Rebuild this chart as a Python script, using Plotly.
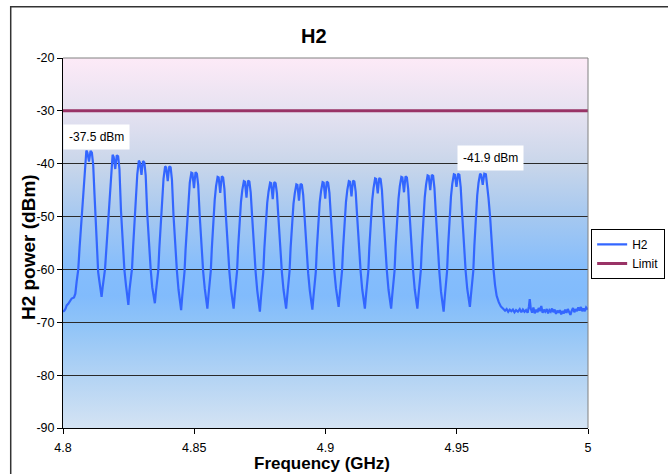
import base64
import plotly.graph_objects as go

# ---------------- data ----------------
freq_ghz = [
    4.8000, 4.8005, 4.8010, 4.8014, 4.8020, 4.8027, 4.8033, 4.8042, 4.8047, 4.8052, 4.8058,
    4.8063, 4.8068, 4.8073, 4.8078, 4.8083, 4.8089, 4.8093, 4.8096, 4.8099, 4.8102, 4.8105, 4.8110, 4.8115, 4.8120, 4.8125, 4.8130, 4.8134, 4.8138, 4.8142, 4.8147, 4.8151, 4.8155, 4.8160,
    4.8166, 4.8173, 4.8178, 4.8183, 4.8189, 4.8193, 4.8196, 4.8199, 4.8202, 4.8205, 4.8210, 4.8215, 4.8221, 4.8227, 4.8234, 4.8240, 4.8245, 4.8249, 4.8253, 4.8257, 4.8263,
    4.8267, 4.8273, 4.8278, 4.8283, 4.8289, 4.8293, 4.8296, 4.8299, 4.8302, 4.8305, 4.8310, 4.8315, 4.8321, 4.8327, 4.8334, 4.8340, 4.8345, 4.8350, 4.8354, 4.8358, 4.8363,
    4.8367, 4.8373, 4.8378, 4.8383, 4.8389, 4.8393, 4.8396, 4.8399, 4.8402, 4.8405, 4.8410, 4.8415, 4.8421, 4.8427, 4.8434, 4.8440, 4.8445, 4.8450, 4.8454, 4.8458, 4.8463,
    4.8467, 4.8473, 4.8478, 4.8483, 4.8489, 4.8493, 4.8496, 4.8499, 4.8502, 4.8505, 4.8510, 4.8515, 4.8521, 4.8527, 4.8534, 4.8540, 4.8545, 4.8550, 4.8554, 4.8558, 4.8563,
    4.8567, 4.8573, 4.8578, 4.8583, 4.8589, 4.8593, 4.8596, 4.8599, 4.8602, 4.8605, 4.8610, 4.8615, 4.8621, 4.8627, 4.8634, 4.8640, 4.8645, 4.8650, 4.8654, 4.8658, 4.8663,
    4.8667, 4.8673, 4.8678, 4.8683, 4.8689, 4.8693, 4.8696, 4.8699, 4.8702, 4.8705, 4.8710, 4.8715, 4.8721, 4.8727, 4.8734, 4.8740, 4.8745, 4.8750, 4.8754, 4.8758, 4.8763,
    4.8767, 4.8773, 4.8778, 4.8783, 4.8789, 4.8793, 4.8796, 4.8799, 4.8802, 4.8805, 4.8810, 4.8815, 4.8821, 4.8827, 4.8834, 4.8840, 4.8845, 4.8850, 4.8854, 4.8858, 4.8863,
    4.8867, 4.8873, 4.8878, 4.8883, 4.8889, 4.8893, 4.8896, 4.8899, 4.8902, 4.8905, 4.8910, 4.8915, 4.8921, 4.8927, 4.8934, 4.8940, 4.8945, 4.8950, 4.8954, 4.8958, 4.8963,
    4.8967, 4.8973, 4.8978, 4.8983, 4.8989, 4.8993, 4.8996, 4.8999, 4.9002, 4.9005, 4.9010, 4.9015, 4.9021, 4.9027, 4.9034, 4.9040, 4.9045, 4.9050, 4.9054, 4.9058, 4.9063,
    4.9067, 4.9073, 4.9078, 4.9083, 4.9089, 4.9093, 4.9096, 4.9099, 4.9102, 4.9105, 4.9110, 4.9115, 4.9121, 4.9127, 4.9134, 4.9140, 4.9145, 4.9150, 4.9154, 4.9158, 4.9163,
    4.9167, 4.9173, 4.9178, 4.9183, 4.9189, 4.9193, 4.9196, 4.9199, 4.9202, 4.9205, 4.9210, 4.9215, 4.9221, 4.9227, 4.9234, 4.9240, 4.9245, 4.9250, 4.9254, 4.9258, 4.9263,
    4.9267, 4.9273, 4.9278, 4.9283, 4.9289, 4.9293, 4.9296, 4.9299, 4.9302, 4.9305, 4.9310, 4.9315, 4.9321, 4.9327, 4.9334, 4.9340, 4.9345, 4.9350, 4.9354, 4.9358, 4.9363,
    4.9367, 4.9373, 4.9378, 4.9383, 4.9389, 4.9393, 4.9396, 4.9399, 4.9402, 4.9405, 4.9410, 4.9415, 4.9421, 4.9427, 4.9434, 4.9440, 4.9445, 4.9450, 4.9454, 4.9458, 4.9463,
    4.9467, 4.9473, 4.9478, 4.9483, 4.9489, 4.9493, 4.9496, 4.9499, 4.9502, 4.9505, 4.9510, 4.9515, 4.9521, 4.9527, 4.9534, 4.9540, 4.9545, 4.9550, 4.9554, 4.9558, 4.9563,
    4.9567, 4.9573, 4.9578, 4.9583, 4.9589, 4.9593, 4.9596, 4.9599, 4.9602, 4.9605, 4.9611, 4.9616, 4.9621, 4.9627, 4.9633, 4.9640, 4.9646, 4.9652,
    4.9660, 4.9668, 4.9676, 4.9684, 4.9690, 4.9696, 4.9702, 4.9708, 4.9714, 4.9720, 4.9726, 4.9733, 4.9740, 4.9746, 4.9752, 4.9758, 4.9764, 4.9770, 4.9775, 4.9778,
    4.9782, 4.9787, 4.9792, 4.9797, 4.9803, 4.9808, 4.9812, 4.9817, 4.9822, 4.9827, 4.9832, 4.9837, 4.9843, 4.9848, 4.9853, 4.9858, 4.9863, 4.9868, 4.9873, 4.9878,
    4.9883, 4.9888, 4.9893, 4.9898, 4.9903, 4.9908, 4.9913, 4.9918, 4.9923, 4.9928, 4.9933, 4.9938, 4.9943, 4.9948, 4.9953, 4.9958, 4.9963, 4.9968, 4.9973, 4.9978,
    4.9983, 4.9988, 4.9993, 5.0000,
]

h2_dbm = [
    -68.0, -67.8, -67.4, -66.8, -66.5, -66.0, -65.5, -65.3, -64.6, -62.3, -60.1,
    -56.0, -52.5, -49.0, -44.5, -40.3, -37.5, -37.9, -38.8, -39.6, -38.6, -37.6, -37.9, -40.2, -45.8, -51.5, -57.8, -60.5, -62.0, -63.2, -65.2, -63.4, -61.8, -60.0,
    -55.5, -50.0, -45.2, -41.0, -38.3, -38.7, -39.8, -41.0, -39.6, -38.4, -38.6, -41.0, -49.0, -55.0, -60.2, -63.0, -64.8, -66.7, -64.0, -62.0, -59.8,
    -55.8, -50.2, -45.5, -42.0, -39.4, -39.8, -41.0, -42.1, -40.6, -39.5, -39.8, -42.2, -49.5, -55.2, -60.0, -63.4, -65.0, -66.4, -64.2, -62.5, -60.2,
    -56.0, -50.5, -46.0, -42.8, -40.5, -40.7, -42.0, -43.3, -41.8, -40.5, -40.7, -43.0, -49.8, -55.5, -60.3, -63.8, -65.8, -67.7, -65.2, -62.8, -60.4,
    -56.2, -50.6, -46.4, -43.6, -41.7, -41.8, -43.2, -44.6, -43.0, -41.6, -41.9, -44.0, -50.0, -55.6, -60.4, -63.6, -65.6, -67.4, -65.0, -62.6, -60.3,
    -56.0, -50.4, -46.8, -44.3, -42.5, -42.6, -44.0, -45.5, -43.8, -42.4, -42.6, -44.8, -50.2, -55.8, -60.5, -63.8, -65.7, -67.4, -65.0, -62.7, -60.4,
    -56.0, -50.5, -47.2, -45.0, -43.3, -43.4, -45.0, -46.4, -44.6, -43.2, -43.4, -45.4, -50.4, -55.9, -60.6, -64.0, -66.0, -68.0, -65.4, -62.9, -60.5,
    -56.1, -50.6, -47.4, -45.3, -43.6, -43.7, -45.2, -46.7, -44.9, -43.5, -43.7, -45.6, -50.5, -56.0, -60.6, -63.8, -65.7, -67.4, -65.1, -62.8, -60.4,
    -56.0, -50.7, -47.6, -45.6, -43.9, -44.0, -45.5, -47.0, -45.2, -43.8, -44.0, -45.9, -50.6, -56.0, -60.7, -63.9, -65.8, -67.6, -65.2, -62.8, -60.5,
    -56.1, -50.6, -47.3, -45.2, -43.5, -43.6, -45.1, -46.6, -44.8, -43.4, -43.6, -45.5, -50.4, -55.9, -60.5, -63.6, -65.5, -67.1, -64.9, -62.6, -60.3,
    -56.0, -50.5, -47.2, -45.0, -43.3, -43.4, -44.8, -46.2, -44.5, -43.2, -43.4, -45.3, -50.3, -55.8, -60.5, -63.8, -65.7, -67.4, -65.0, -62.7, -60.4,
    -55.9, -50.4, -46.9, -44.6, -42.8, -42.9, -44.2, -45.6, -44.0, -42.7, -42.9, -45.0, -50.2, -55.7, -60.4, -63.8, -65.6, -67.4, -65.0, -62.6, -60.3,
    -55.8, -50.3, -46.7, -44.3, -42.5, -42.6, -44.0, -45.4, -43.8, -42.4, -42.6, -44.8, -50.1, -55.7, -60.4, -63.8, -65.6, -67.4, -65.0, -62.6, -60.3,
    -55.8, -50.2, -46.4, -44.0, -42.2, -42.3, -43.7, -45.0, -43.5, -42.1, -42.3, -44.6, -50.0, -55.8, -60.6, -64.2, -66.1, -68.0, -65.4, -62.8, -60.4,
    -55.7, -50.1, -46.2, -43.8, -42.0, -42.1, -43.2, -44.4, -43.1, -41.9, -42.1, -44.4, -49.9, -55.6, -60.4, -63.7, -65.5, -67.1, -64.9, -62.6, -60.3,
    -55.6, -50.0, -46.0, -43.6, -41.9, -42.1, -43.0, -44.0, -42.9, -41.9, -42.0, -43.8, -46.5, -50.0, -55.0, -60.0, -63.0, -65.0,
    -66.2, -67.0, -67.4, -67.8, -67.5, -68.0, -67.6, -67.9, -67.6, -68.1, -67.7, -68.0, -67.5, -68.1, -67.6, -68.0, -67.7, -68.2, -67.0, -65.6,
    -67.4, -68.2, -67.2, -68.3, -67.6, -68.1, -67.3, -67.9, -66.9, -68.2, -67.6, -68.0, -67.5, -68.3, -67.7, -68.0, -67.4, -68.1, -67.6, -68.4,
    -67.8, -68.2, -67.7, -68.5, -67.9, -68.3, -67.6, -68.2, -67.5, -68.0, -68.6, -67.8, -67.3, -68.1, -67.5, -67.9, -67.2, -67.8, -67.1, -67.9,
    -67.4, -67.9, -67.2, -67.6,
]

limit_freq = [4.8, 5.0]
limit_dbm = [-30, -30]

x_tickvals = [4.8, 4.85, 4.9, 4.95, 5.0]
x_ticktext = ["4.8", "4.85", "4.9", "4.95", "5"]
y_tickvals = [-90, -80, -70, -60, -50, -40, -30, -20]
y_ticktext = ["-90", "-80", "-70", "-60", "-50", "-40", "-30", "-20"]

peak_labels = ["-37.5 dBm", "-41.9 dBm"]
peak_label_x = [4.8128, 4.9627]
peak_label_y = [-34.9, -39.0]

# ---------------- figure ----------------
FONT = "Liberation Sans, Arial, sans-serif"

grad_svg = (
    "<svg xmlns='http://www.w3.org/2000/svg' width='100' height='100' viewBox='0 0 100 100' "
    "preserveAspectRatio='none'><defs><linearGradient id='g' x1='0' y1='0' x2='0' y2='1'>"
    "<stop offset='0' stop-color='#fdeaf7'/>"
    "<stop offset='0.143' stop-color='#e6e2f1'/>"
    "<stop offset='0.286' stop-color='#c9d6ea'/>"
    "<stop offset='0.429' stop-color='#a5c8f0'/>"
    "<stop offset='0.571' stop-color='#85bdfc'/>"
    "<stop offset='0.643' stop-color='#81bbfc'/>"
    "<stop offset='0.714' stop-color='#8ec3f8'/>"
    "<stop offset='0.857' stop-color='#b2d3f4'/>"
    "<stop offset='1' stop-color='#d4e3f3'/>"
    "</linearGradient></defs><rect x='0' y='0' width='100' height='100' fill='url(#g)'/></svg>"
)
grad_uri = "data:image/svg+xml;base64," + base64.b64encode(grad_svg.encode()).decode()

fig = go.Figure()
fig.add_trace(go.Scatter(
    x=freq_ghz, y=h2_dbm, mode="lines", name="H2",
    line=dict(color="#3366ff", width=2.2),
))
fig.add_trace(go.Scatter(
    x=limit_freq, y=limit_dbm, mode="lines", name="Limit",
    line=dict(color="#993366", width=3),
))

annotations = [
    dict(text="<b>H2</b>", x=0.478, y=1.0595, xref="paper", yref="paper",
         xanchor="center", yanchor="middle", showarrow=False,
         font=dict(family=FONT, size=20, color="black")),
    dict(text="<b>Frequency (GHz)</b>", x=0.4928, y=-0.0959, xref="paper", yref="paper",
         xanchor="center", yanchor="middle", showarrow=False,
         font=dict(family=FONT, size=17, color="black")),
    dict(text="<b>H2 power (dBm)</b>", x=-0.0667, y=0.489, xref="paper", yref="paper",
         xanchor="center", yanchor="middle", showarrow=False, textangle=-90,
         font=dict(family=FONT, size=19, color="black")),
]
for t, xx, yy in zip(peak_labels, peak_label_x, peak_label_y):
    annotations.append(dict(
        text=t, x=xx, y=yy, xref="x", yref="y", xanchor="center", yanchor="middle",
        showarrow=False, bgcolor="white", borderpad=5,
        font=dict(family=FONT, size=12, color="black")))

fig.update_layout(
    width=668, height=474,
    margin=dict(l=63, r=80, t=58, b=46, autoexpand=False),
    paper_bgcolor="white",
    plot_bgcolor="rgba(0,0,0,0)",
    font=dict(family=FONT, size=12, color="black"),
    showlegend=True,
    legend=dict(x=1.006, y=0.538, xanchor="left", yanchor="top",
                bgcolor="white", bordercolor="black", borderwidth=1,
                font=dict(family=FONT, size=12, color="black"),
                tracegroupgap=0),
    annotations=annotations,
    images=[dict(source=grad_uri, xref="x", yref="y", x=4.8, y=-20,
                 sizex=0.2, sizey=70, xanchor="left", yanchor="top",
                 sizing="stretch", layer="below")],
    shapes=[
        dict(type="rect", xref="paper", yref="paper", x0=-0.0996, x1=1.25, y0=-0.25, y1=1.1386,
             line=dict(color="#333333", width=1.5), fillcolor="rgba(0,0,0,0)", layer="above"),
        dict(type="line", xref="paper", yref="paper", x0=0, x1=1, y0=1, y1=1,
             line=dict(color="#808080", width=1), layer="above"),
        dict(type="line", xref="paper", yref="paper", x0=1, x1=1, y0=0, y1=1,
             line=dict(color="#808080", width=1), layer="above"),
    ],
)

fig.update_xaxes(
    range=[4.8, 5.0], tickvals=x_tickvals, ticktext=x_ticktext,
    showgrid=False, zeroline=False,
    showline=True, linecolor="black", linewidth=1,
    ticks="outside", ticklen=5, tickcolor="black", tickwidth=1,
    ticklabelstandoff=3,
    tickfont=dict(family=FONT, size=12.5, color="black"),
)
fig.update_yaxes(
    range=[-90, -20], tickvals=y_tickvals, ticktext=y_ticktext,
    showgrid=True, gridcolor="#2a2a2a", gridwidth=1, zeroline=False,
    showline=True, linecolor="black", linewidth=1,
    ticks="outside", ticklen=5, tickcolor="black", tickwidth=1,
    tickfont=dict(family=FONT, size=12.5, color="black"),
)

fig.write_html("out.html")
